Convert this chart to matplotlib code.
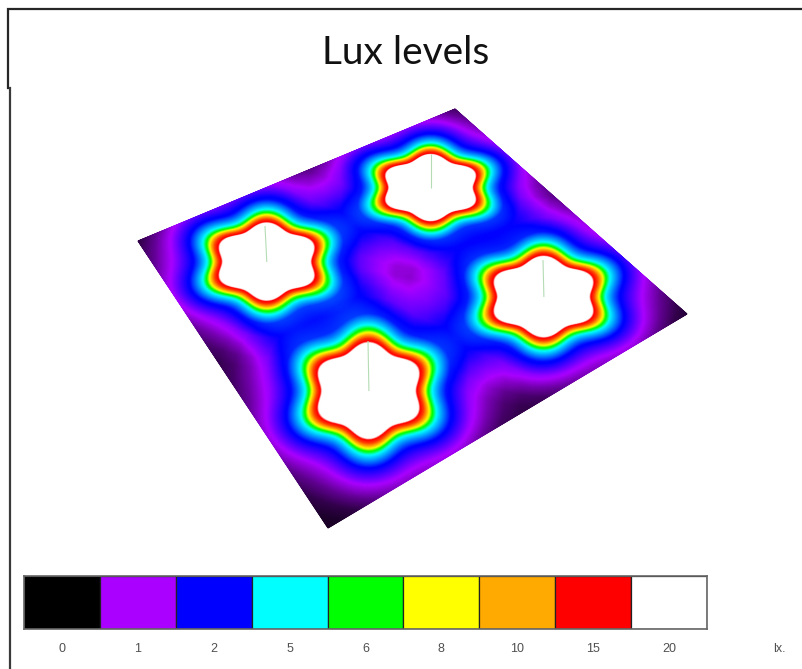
import matplotlib
matplotlib.use("Agg")
import matplotlib.pyplot as plt
import numpy as np
from matplotlib.colors import LinearSegmentedColormap

W, H = 803, 669

# Legend of the chart
legend_labels = ["0", "1", "2", "5", "6", "8", "10", "15", "20"]
legend_levels = [0, 1, 2, 5, 6, 8, 10, 15, 20]
legend_colors = ["#000000", "#aa00ff", "#0000ff", "#00ffff", "#00ff00",
                 "#ffff00", "#ffaa00", "#ff0000", "#ffffff"]

# Corners of the floor in the picture: left, top, right, bottom
floor_x = [138, 455, 687, 328]
floor_y = [241, 109, 314, 528]

# Middle of each white zone, its half size in pixels, top of the thin lamp line
lamp_x = [267, 431, 544, 369]
lamp_y = [262, 188, 297, 391]
lamp_rx = [48, 45.5, 50, 51]
lamp_ry = [35.5, 30.5, 37, 44]
pole_top_x = [265, 431, 543, 368]
pole_top_y = [226, 154, 260, 341]

# Lux of one lamp against distance, in white-zone radii
profile_r = [0.0, 1.0, 1.03, 1.1, 1.16, 1.21, 1.27, 1.35, 1.65, 2.05, 2.4, 2.7, 3.0, 4.0, 6.0, 12.0]
profile_lux = [40, 20, 15, 13, 10, 8, 6, 5, 2, 1.0, 0.55, 0.27, 0.15, 0.05, 0.015, 0.0]


def floor_transform():
    # Homography from the unit square to the picture
    src = [(0, 0), (1, 0), (1, 1), (0, 1)]
    rows, rhs = [], []
    for (u, v), x, y in zip(src, floor_x, floor_y):
        rows.append([u, v, 1, 0, 0, 0, -u * x, -v * x])
        rows.append([0, 0, 0, u, v, 1, -u * y, -v * y])
        rhs += [x, y]
    return np.append(np.linalg.solve(rows, rhs), 1).reshape(3, 3)


def apply(m, a, b):
    d = m[2, 0] * a + m[2, 1] * b + m[2, 2]
    return (m[0, 0] * a + m[0, 1] * b + m[0, 2]) / d, (m[1, 0] * a + m[1, 1] * b + m[1, 2]) / d


fig = plt.figure(figsize=(W / 100, H / 100), dpi=100)
ax = fig.add_axes([0, 0, 1, 1])
ax.set_xlim(0, W)
ax.set_ylim(H, 0)
ax.axis("off")

# Lux on the floor, summed over the lamps
m = floor_transform()
u, v = np.meshgrid(np.linspace(0, 1, 600), np.linspace(0, 1, 600))
X, Y = apply(m, u, v)
lux = np.zeros_like(u)
for lx, ly, rx, ry in zip(lamp_x, lamp_y, lamp_rx, lamp_ry):
    dx, dy = (X - lx) / rx, (Y - ly) / ry
    r = np.hypot(dx, dy)
    # six lobes, with points up and down, fading out away from the lamp
    lobes = -0.085 * np.cos(6 * np.arctan2(dy, dx)) * np.clip((2.8 - r) / 1.4, 0, 1)
    lux += np.interp(r / (1 + lobes), profile_r, profile_lux)

# Colour position follows the legend steps
idx = np.interp(lux, legend_levels, np.arange(len(legend_levels)))
cmap = LinearSegmentedColormap.from_list("lux", legend_colors, N=512)
ax.pcolormesh(X, Y, idx, cmap=cmap, vmin=0, vmax=len(legend_levels) - 1,
              shading="gouraud", rasterized=True)

# Lamps
for x0, y0, x1, y1 in zip(lamp_x, lamp_y, pole_top_x, pole_top_y):
    ax.plot([x0 - (x0 - x1) * 0.1, x1], [y0, y1], color="#b4dcb4", lw=0.8, solid_capstyle="butt")

# Frame of the slide
ax.plot([8, 8, W], [88, 9, 9], color="#262626", lw=1.6, solid_joinstyle="miter")
ax.plot([10, 10], [88, H], color="#3a3a3a", lw=1.6)

ax.text(406, 53, "Lux levels", family="Lato", fontsize=28, color="#111111",
        ha="center", va="center")

# Legend bar
bar = fig.add_axes([24 / W, 1 - 629 / H, (707 - 24) / W, (629 - 576) / H])
bar.bar(range(len(legend_labels)), 1, width=1, color=legend_colors,
        edgecolor="#222222", linewidth=0.9)
bar.set_xlim(-0.5, len(legend_labels) - 0.5)
bar.set_ylim(0, 1)
bar.set_yticks([])
bar.set_xticks(range(len(legend_labels)), legend_labels, family="Liberation Sans",
               fontsize=9, color="#505050")
bar.tick_params(axis="x", length=0, pad=10)
for s in bar.spines.values():
    s.set_color("#666666")
    s.set_linewidth(1.2)

ax.text(779, 649, "lx.", family="Liberation Sans", fontsize=9, color="#505050",
        ha="center", va="center")

fig.savefig("out.png", dpi=100)
